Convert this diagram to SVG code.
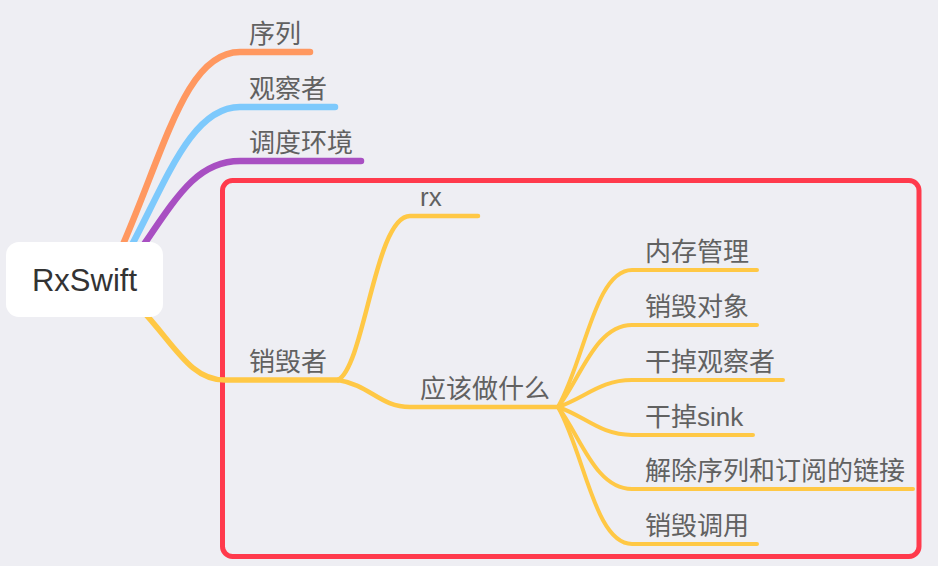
<svg xmlns="http://www.w3.org/2000/svg" width="938" height="566" viewBox="0 0 938 566">
<style>
.lbl{font-family:"Liberation Sans","Noto Sans CJK SC",sans-serif;font-size:26px;fill:#616161}
.root{font-family:"Liberation Sans","Noto Sans CJK SC",sans-serif;font-size:31px;fill:#333}
.c{fill:none;stroke-linecap:round;stroke-linejoin:round}
.y1{stroke:#FFC845;stroke-width:5.5}
.y2{stroke:#FFC845;stroke-width:4.5}
.y3{stroke:#FFC845;stroke-width:4}
</style>
<rect width="938" height="566" fill="#EEEEF3"/>
<g id="boundary">
<rect x="222.5" y="180.5" width="696.5" height="376" rx="10" fill="none" stroke="#FF3A4C" stroke-width="5"/>
</g>
<g id="connectors">
<path class="c" stroke="#FF9860" stroke-width="6.5" d="M118 256 C165 150,185 52,240 52 L310 52"/>
<path class="c" stroke="#7DC9FC" stroke-width="6.5" d="M126 256 C165 185,190 107,240 107 L335 107"/>
<path class="c" stroke="#A84FC2" stroke-width="6.5" d="M136 256 C175 200,195 161,240 161 L361 161"/>
<path class="c y1" d="M140 308 C175 345,190 380,225 380 L338 380"/>
<path class="c y2" d="M338 380 C365 365,375 216,410 216 L478 216"/>
<path class="c y2" d="M338 380 C370 385,380 407,410 407 L558 407"/>
<path class="c y3" d="M558 407 C585 360,595 270,632 270 L757 270"/>
<path class="c y3" d="M558 407 C580 380,595 325,632 325 L757 325"/>
<path class="c y3" d="M558 407 C585 398,600 380,632 380 L783 380"/>
<path class="c y3" d="M558 407 C585 416,600 435,632 435 L753 435"/>
<path class="c y3" d="M558 407 C580 435,595 489,632 489 L913 489"/>
<path class="c y3" d="M558 407 C585 455,595 544,632 544 L757 544"/>
</g>
<g id="root">
<rect x="6" y="242" width="157" height="75" rx="13" fill="#FFFFFF"/>
<text class="root" x="84.5" y="291" text-anchor="middle">RxSwift</text>
</g>
<g id="n-xulie"><text class="lbl" x="249" y="43">序列</text></g>
<g id="n-guanchazhe"><text class="lbl" x="249" y="98">观察者</text></g>
<g id="n-diaodu"><text class="lbl" x="249" y="152">调度环境</text></g>
<g id="n-xiaohuizhe"><text class="lbl" x="249" y="371">销毁者</text></g>
<g id="n-rx"><text class="lbl" x="420" y="206">rx</text></g>
<g id="n-yinggai"><text class="lbl" x="420" y="398">应该做什么</text></g>
<g id="n-neicun"><text class="lbl" x="645" y="261">内存管理</text></g>
<g id="n-xiaohuiduixiang"><text class="lbl" x="645" y="316">销毁对象</text></g>
<g id="n-gandiaoguancha"><text class="lbl" x="645" y="371">干掉观察者</text></g>
<g id="n-sink"><text class="lbl" x="645" y="426">干掉sink</text></g>
<g id="n-jiechu"><text class="lbl" x="645" y="480">解除序列和订阅的链接</text></g>
<g id="n-diaoyong"><text class="lbl" x="645" y="535">销毁调用</text></g>
</svg>
